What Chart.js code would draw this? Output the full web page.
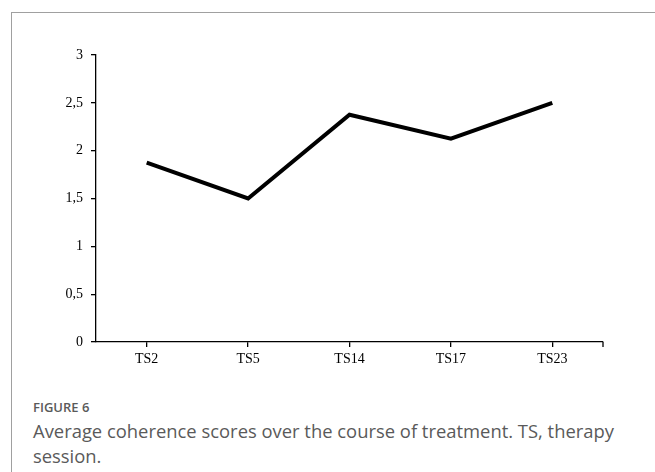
<!DOCTYPE html>
<html lang="en">
<head>
    <meta charset="UTF-8">
    <title>Figure 6</title>
    <style>
        html, body {
            margin: 0;
            padding: 0;
            background: white;
        }
        .frame {
            position: absolute;
            left: 11px;
            top: 12px;
            width: 660px;
            height: 480px;
            border-left: 1.5px solid #a0a0a0;
            border-top: 1.5px solid #a0a0a0;
        }
        .chartbox {
            position: absolute;
            left: 0;
            top: 0;
            width: 655px;
            height: 380px;
        }
        .fig {
            position: absolute;
            left: 33px;
            top: 398px;
            font-family: "Open Sans", sans-serif;
            font-size: 13px;
            font-weight: 600;
            color: #5a5a5a;
        }
        .caption {
            position: absolute;
            left: 33px;
            top: 418px;
            width: 600px;
            font-family: "Open Sans", sans-serif;
            font-size: 18.4px;
            line-height: 25px;
            color: #5a5a5a;
        }
    </style>
    <script src="https://cdn.jsdelivr.net/npm/chart.js"></script>
</head>
<body>
    <div class="frame"></div>
    <div class="chartbox"><canvas id="chart" width="655" height="380"></canvas></div>
    <div class="fig">FIGURE 6</div>
    <div class="caption">Average coherence scores over the course of treatment. TS, therapy session.</div>
    <script>
        var sessions = ['TS2', 'TS5', 'TS14', 'TS17', 'TS23'];
        var coherence = [1.875, 1.5, 2.375, 2.125, 2.5];

        // small tick at the right end of the x axis, like the original
        var endTick = {
            id: 'endTick',
            afterDraw: function(chart) {
                var x = chart.scales.x;
                var ctx = chart.ctx;
                ctx.save();
                ctx.strokeStyle = 'black';
                ctx.lineWidth = 1.3;
                ctx.beginPath();
                ctx.moveTo(x.right, x.top);
                ctx.lineTo(x.right, x.top + 5);
                ctx.stroke();
                ctx.restore();
            }
        };

        new Chart(document.getElementById('chart'), {
            type: 'line',
            data: {
                labels: sessions,
                datasets: [{
                    data: coherence,
                    borderColor: 'black',
                    borderWidth: 4,
                    pointRadius: 0,
                    tension: 0,
                    fill: false
                }]
            },
            options: {
                responsive: false,
                animation: false,
                layout: { padding: { left: 40, right: 52, top: 55, bottom: 8 } },
                plugins: {
                    legend: { display: false },
                    tooltip: { enabled: false }
                },
                scales: {
                    x: {
                        offset: true,
                        grid: { drawOnChartArea: false, drawTicks: true, tickLength: 5, color: 'black', lineWidth: 1.3 },
                        border: { color: 'black', width: 1.3 },
                        ticks: { color: 'black', font: { family: 'Liberation Serif', size: 14 }, padding: 4 },
                        afterFit: function(s) { s.height = 30; }
                    },
                    y: {
                        min: 0,
                        max: 3,
                        grid: { drawOnChartArea: false, drawTicks: true, tickLength: 5, color: 'black', lineWidth: 1.3 },
                        border: { color: 'black', width: 1.3 },
                        ticks: {
                            stepSize: 0.5,
                            color: 'black',
                            font: { family: 'Liberation Serif', size: 14 },
                            padding: 8,
                            callback: function(v) { return String(v).replace('.', ','); }
                        },
                        afterFit: function(s) { s.width = 56; }
                    }
                }
            },
            plugins: [endTick]
        });
    </script>
</body>
</html>
